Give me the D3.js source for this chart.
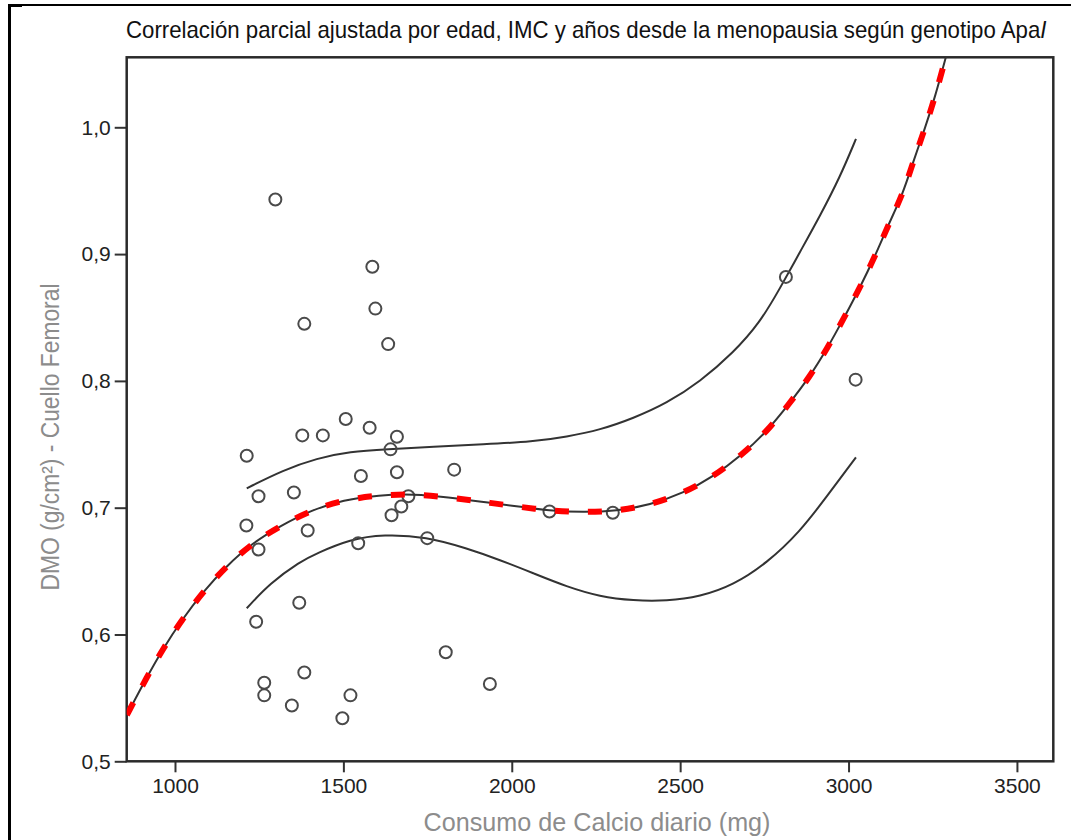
<!DOCTYPE html>
<html>
<head>
<meta charset="utf-8">
<script src="https://cdn.jsdelivr.net/npm/d3@7"></script>
<style>
  html, body { margin: 0; padding: 0; background: #fff; }
  svg { display: block; }
  text { font-family: "Liberation Sans", Arial, sans-serif; }
</style>
</head>
<body>
<svg id="chart" width="1071" height="840"></svg>
<script>
// ---- Data ----
const calcio = [1298, 1586, 1595, 1384, 1633, 1507, 1378, 1439, 1578, 1659,
                1213, 1640, 1552, 1659, 1829, 1248, 1353, 1693, 1672, 1643,
                1212, 1394, 1248, 1544, 1749, 1369, 1241, 1804, 1384, 1265,
                1265, 1935, 1347, 1521, 1497, 2112, 2300, 2814, 3021];
const dmo = [0.943, 0.890, 0.857, 0.845, 0.829, 0.770, 0.757, 0.757, 0.763, 0.756,
             0.741, 0.746, 0.725, 0.728, 0.730, 0.709, 0.712, 0.709, 0.701, 0.694,
             0.686, 0.682, 0.667, 0.672, 0.676, 0.625, 0.610, 0.586, 0.570, 0.562,
             0.552, 0.561, 0.544, 0.552, 0.534, 0.697, 0.696, 0.882, 0.801];

// fitted curve
const fitX = [857, 916, 965, 1020, 1084, 1151, 1228, 1315, 1406, 1500, 1606, 1708,
              1812, 1911, 2005, 2113, 2212, 2312, 2410, 2509, 2598, 2683, 2757,
              2821, 2885, 2937, 2986, 3034, 3078, 3118, 3162, 3192, 3227, 3257, 3288, 3310];
const fitY = [0.5365, 0.5662, 0.5891, 0.6114, 0.6338, 0.6535, 0.6718, 0.6860, 0.6982,
              0.7061, 0.7100, 0.7108, 0.7082, 0.7047, 0.7013, 0.6976, 0.6964, 0.6974,
              0.7021, 0.7114, 0.7244, 0.7416, 0.7599, 0.7810, 0.8033, 0.8257, 0.8494,
              0.8737, 0.8980, 0.9230, 0.9479, 0.9729, 0.9992, 1.0241, 1.0544, 1.0760];

// upper confidence band
const upperX = [1213, 1322, 1421, 1520, 1629, 1767, 1915, 2064, 2163, 2262, 2361,
                2460, 2559, 2658, 2737, 2796, 2856, 2915, 2975, 3022];
const upperY = [0.7153, 0.7297, 0.7390, 0.7442, 0.7461, 0.7481, 0.7500, 0.7521,
                0.7560, 0.7613, 0.7705, 0.7823, 0.7994, 0.8222, 0.8460, 0.8728,
                0.9018, 0.9300, 0.9610, 0.9908];

// lower confidence band
const lowerX = [1213, 1282, 1371, 1421, 1520, 1619, 1747, 1866, 1965, 2064, 2163,
                2262, 2361, 2460, 2559, 2658, 2757, 2856, 2935, 3022];
const lowerY = [0.6207, 0.6404, 0.6574, 0.6640, 0.6751, 0.6790, 0.6771, 0.6680,
                0.6588, 0.6483, 0.6377, 0.6298, 0.6267, 0.6264, 0.6298, 0.6390,
                0.6562, 0.6811, 0.7087, 0.7397];

const xTicks = [1000, 1500, 2000, 2500, 3000, 3500];
const yTicks = [0.5, 0.6, 0.7, 0.8, 0.9, 1.0];

const titleText = "Correlación parcial ajustada por edad, IMC y años desde la menopausia según genotipo Apa";
const titleItalic = "I";
const xLabel = "Consumo de Calcio diario (mg)";
const yLabel = "DMO (g/cm²) - Cuello Femoral";

// ---- Drawing ----
const svg = d3.select("#chart");
const L = 126.7, R = 1053.3, T = 57.3, B = 761.3;

svg.append("rect").attr("width", 1071).attr("height", 840).attr("fill", "#fff");

// outer frame fragments
svg.append("line").attr("x1", 8).attr("x2", 1071).attr("y1", 5).attr("y2", 5)
  .attr("stroke", "#000").attr("stroke-width", 2);
svg.append("line").attr("x1", 9.5).attr("x2", 9.5).attr("y1", 4).attr("y2", 840)
  .attr("stroke", "#000").attr("stroke-width", 3);
svg.append("line").attr("x1", 8).attr("x2", 22).attr("y1", 5.5).attr("y2", 5.5)
  .attr("stroke", "#000").attr("stroke-width", 3);

const x = d3.scaleLinear().domain([856.6, 3608]).range([L, R]);
const y = d3.scaleLinear().domain([0.5, 1.0552]).range([B, T]);

svg.append("clipPath").attr("id", "clip")
  .append("rect").attr("x", L).attr("y", T).attr("width", R - L).attr("height", B - T);

// axes
const fmtY = d => d3.format(".1f")(d).replace(".", ",");
const xAxis = svg.append("g").attr("transform", `translate(0,${B})`)
  .call(d3.axisBottom(x).tickValues(xTicks).tickSize(11).tickPadding(6).tickFormat(d3.format("d")));
const yAxis = svg.append("g").attr("transform", `translate(${L},0)`)
  .call(d3.axisLeft(y).tickValues(yTicks).tickSize(12).tickPadding(4).tickFormat(fmtY));
[xAxis, yAxis].forEach(g => {
  g.select(".domain").remove();
  g.selectAll(".tick line").attr("stroke", "#333").attr("stroke-width", 2);
  g.selectAll(".tick text").attr("fill", "#222").style("font-size", "21px")
    .style("font-family", "'Liberation Sans', Arial, sans-serif");
});

// plot frame
svg.append("rect").attr("x", L).attr("y", T).attr("width", R - L).attr("height", B - T)
  .attr("fill", "none").attr("stroke", "#2a2a2a").attr("stroke-width", 2.5);

const plot = svg.append("g").attr("clip-path", "url(#clip)");

const line = d3.line().x(d => x(d[0])).y(d => y(d[1])).curve(d3.curveBasis);
const fitPts = fitX.map((v, i) => [v, fitY[i]]);
const upPts = upperX.map((v, i) => [v, upperY[i]]);
const loPts = lowerX.map((v, i) => [v, lowerY[i]]);

[upPts, loPts].forEach(p => plot.append("path").attr("d", line(p))
  .attr("fill", "none").attr("stroke", "#333").attr("stroke-width", 2));

// points
plot.selectAll("circle").data(calcio.map((v, i) => [v, dmo[i]])).join("circle")
  .attr("cx", d => x(d[0])).attr("cy", d => y(d[1])).attr("r", 6)
  .attr("fill", "none").attr("stroke", "#4a4a4a").attr("stroke-width", 2);

plot.append("path").attr("d", line(fitPts))
  .attr("fill", "none").attr("stroke", "#333").attr("stroke-width", 2);
plot.append("path").attr("d", line(fitPts))
  .attr("fill", "none").attr("stroke", "#ff0000").attr("stroke-width", 6)
  .attr("stroke-dasharray", "14,19");

// title: one text element, horizontally scaled to span the reference width
const title = svg.append("text").attr("x", 0).attr("y", 0)
  .style("font-size", "23px").attr("fill", "#111");
title.append("tspan").text(titleText);
title.append("tspan").style("font-style", "italic").text(titleItalic);
const tw = title.node().getComputedTextLength();
title.attr("transform", `translate(126,38) scale(${921 / tw},1)`);

// axis labels
svg.append("text").attr("x", 597).attr("y", 831).attr("text-anchor", "middle")
  .style("font-size", "26px").attr("fill", "#8c8c8c")
  .attr("textLength", 347).attr("lengthAdjust", "spacingAndGlyphs").text(xLabel);
svg.append("text").attr("transform", "translate(59,437) rotate(-90)").attr("text-anchor", "middle")
  .style("font-size", "25px").attr("fill", "#8c8c8c")
  .attr("textLength", 307).attr("lengthAdjust", "spacingAndGlyphs").text(yLabel);
</script>
</body>
</html>
